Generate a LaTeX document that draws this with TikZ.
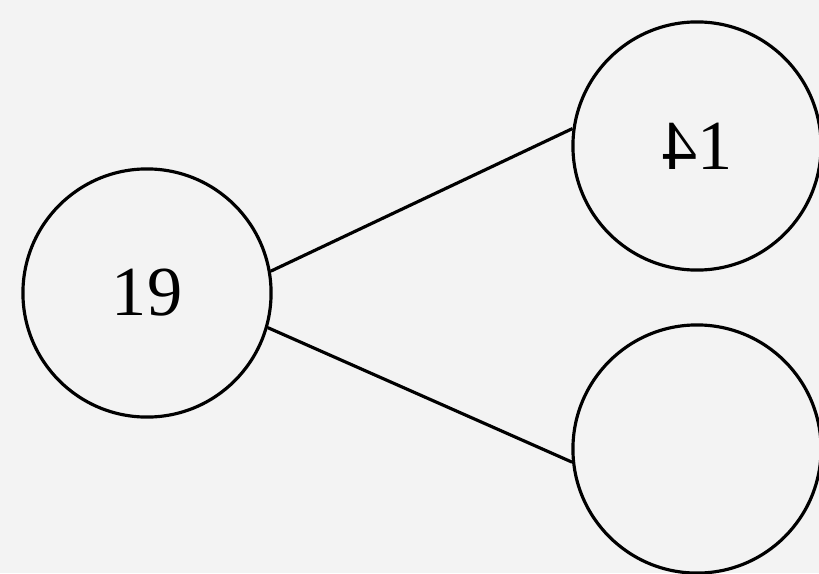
\documentclass[tikz,border=0pt]{standalone}
\usepackage{fontspec}
\setmainfont{Liberation Serif}
\usepackage{graphicx}
\usetikzlibrary{shapes}
\definecolor{paper}{RGB}{243,243,243}

\begin{document}
\begin{tikzpicture}[x=0.01cm,y=-0.01cm,
        vertex/.style={draw,circle,line width=0.9pt,minimum size=2.48cm,inner sep=0pt,
            font=\fontsize{20}{24}\selectfont}]
        \useasboundingbox (0,0) rectangle (819,573);
        \clip (0,0) rectangle (819,573);
        \fill[paper] (0,0) rectangle (819,573);
        \node[vertex] (n19) at (147,293) {19};
        \node[vertex] (n14) at (697,146) {\reflectbox{4}1};
        \node[vertex] (nlow) at (697,449) {};
        \draw[line width=0.9pt] (n19.10) -- (n14.172);
        \draw[line width=0.9pt] (n19.-16) -- (nlow.-174);
    \end{tikzpicture}
\end{document}
